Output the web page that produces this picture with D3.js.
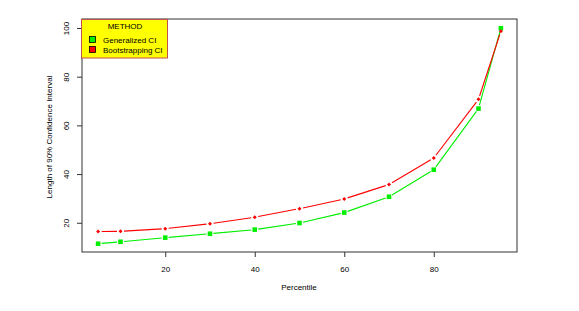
<!DOCTYPE html>
<html><head><meta charset="utf-8">
<script src="https://cdn.jsdelivr.net/npm/d3@7"></script>
<style>body{margin:0;background:#fff}svg{display:block}text{font-family:"Liberation Sans",Arial,sans-serif;fill:#000}</style>
</head><body><svg id="c" width="579" height="311"></svg>
<script>
const percentiles = [5,10,20,30,40,50,60,70,80,90,95];
const generalizedCI = [11.6,12.4,14.1,15.7,17.4,20.1,24.4,30.9,42.0,67.1,100.1];
const bootstrapCI = [16.6,16.7,17.8,19.8,22.5,26.0,30.0,35.9,46.8,70.9,98.9];
const xTicks = [20,40,60,80];
const yTicks = [20,40,60,80,100];
const seriesNames = ["Generalized CI","Bootstrapping CI"];
const seriesColors = ["#00ee00","#ff0000"];

const svg = d3.select("#c");
const L=82,R=517,T=19,B=252;
const x = d3.scaleLinear().domain([1.4,98.6]).range([L,R]);
const y = d3.scaleLinear().domain([8.2,103.9]).range([B,T]);

// box
svg.append("rect").attr("x",L).attr("y",T).attr("width",R-L).attr("height",B-T)
  .attr("fill","none").attr("stroke","#333").attr("stroke-width",1);

// axes
const xa = svg.append("g").attr("transform",`translate(0,${B})`)
  .call(d3.axisBottom(x).tickValues(xTicks).tickSize(5).tickPadding(9));
xa.select(".domain").remove();
xa.selectAll("line").attr("stroke","#333");
xa.selectAll("text").attr("font-size",8).style("font-family","Liberation Sans, Arial, sans-serif");

const ya = svg.append("g").attr("transform",`translate(${L},0)`)
  .call(d3.axisLeft(y).tickValues(yTicks).tickSize(5).tickPadding(0));
ya.select(".domain").remove();
ya.selectAll("line").attr("stroke","#333");
ya.selectAll("text").attr("font-size",8).attr("x",0).attr("dy",0)
  .attr("text-anchor","middle")
  .attr("transform",function(d){return `translate(-13,${y(d)}) rotate(-90)`;})
  .attr("y",0)
  .style("font-family","Liberation Sans, Arial, sans-serif");
ya.selectAll(".tick").attr("transform",null);
ya.selectAll(".tick line").attr("y1",d=>y(d)).attr("y2",d=>y(d));

// labels
svg.append("text").attr("x",299).attr("y",290).attr("text-anchor","middle")
  .attr("font-size",8).text("Percentile");
svg.append("text").attr("transform","translate(52,137) rotate(-90)").attr("text-anchor","middle")
  .attr("font-size",8).text("Length of 90% Confidence Interval");

// series (type "b": segments with gaps)
function drawSeries(vals,color,shape){
  const pts = percentiles.map((p,i)=>[x(p),y(vals[i])]);
  const gap=3.5;
  const g = svg.append("g");
  for(let i=0;i<pts.length-1;i++){
    const [x1,y1]=pts[i],[x2,y2]=pts[i+1];
    const dx=x2-x1,dy=y2-y1,len=Math.hypot(dx,dy);
    if(len<=2*gap) continue;
    const ux=dx/len,uy=dy/len;
    g.append("line").attr("x1",x1+ux*gap).attr("y1",y1+uy*gap)
      .attr("x2",x2-ux*gap).attr("y2",y2-uy*gap)
      .attr("stroke",color).attr("stroke-width",1.1);
  }
  pts.forEach(([px,py])=>{
    if(shape==="square"){
      g.append("rect").attr("x",px-2.3).attr("y",py-2.3).attr("width",4.6).attr("height",4.6).attr("fill",color);
    } else {
      g.append("path").attr("d",`M${px},${py-2}L${px+2},${py}L${px},${py+2}L${px-2},${py}Z`).attr("fill",color);
    }
  });
}
drawSeries(generalizedCI,seriesColors[0],"square");
drawSeries(bootstrapCI,seriesColors[1],"diamond");

// legend
const lg = svg.append("g");
lg.append("rect").attr("x",81.5).attr("y",19.5).attr("width",86).attr("height",38.5)
  .attr("fill","#ffff00").attr("stroke","#c0504d").attr("stroke-width",1);
lg.append("text").attr("x",125).attr("y",29).attr("text-anchor","middle").attr("font-size",8).text("METHOD");
seriesNames.forEach((n,i)=>{
  const cy = 39.5+i*10;
  lg.append("rect").attr("x",89.5).attr("y",cy-3).attr("width",6).attr("height",6)
    .attr("fill",seriesColors[i]).attr("stroke","#000").attr("stroke-width",0.8);
  lg.append("text").attr("x",103).attr("y",cy+3).attr("font-size",8).text(n);
});
</script></body></html>
